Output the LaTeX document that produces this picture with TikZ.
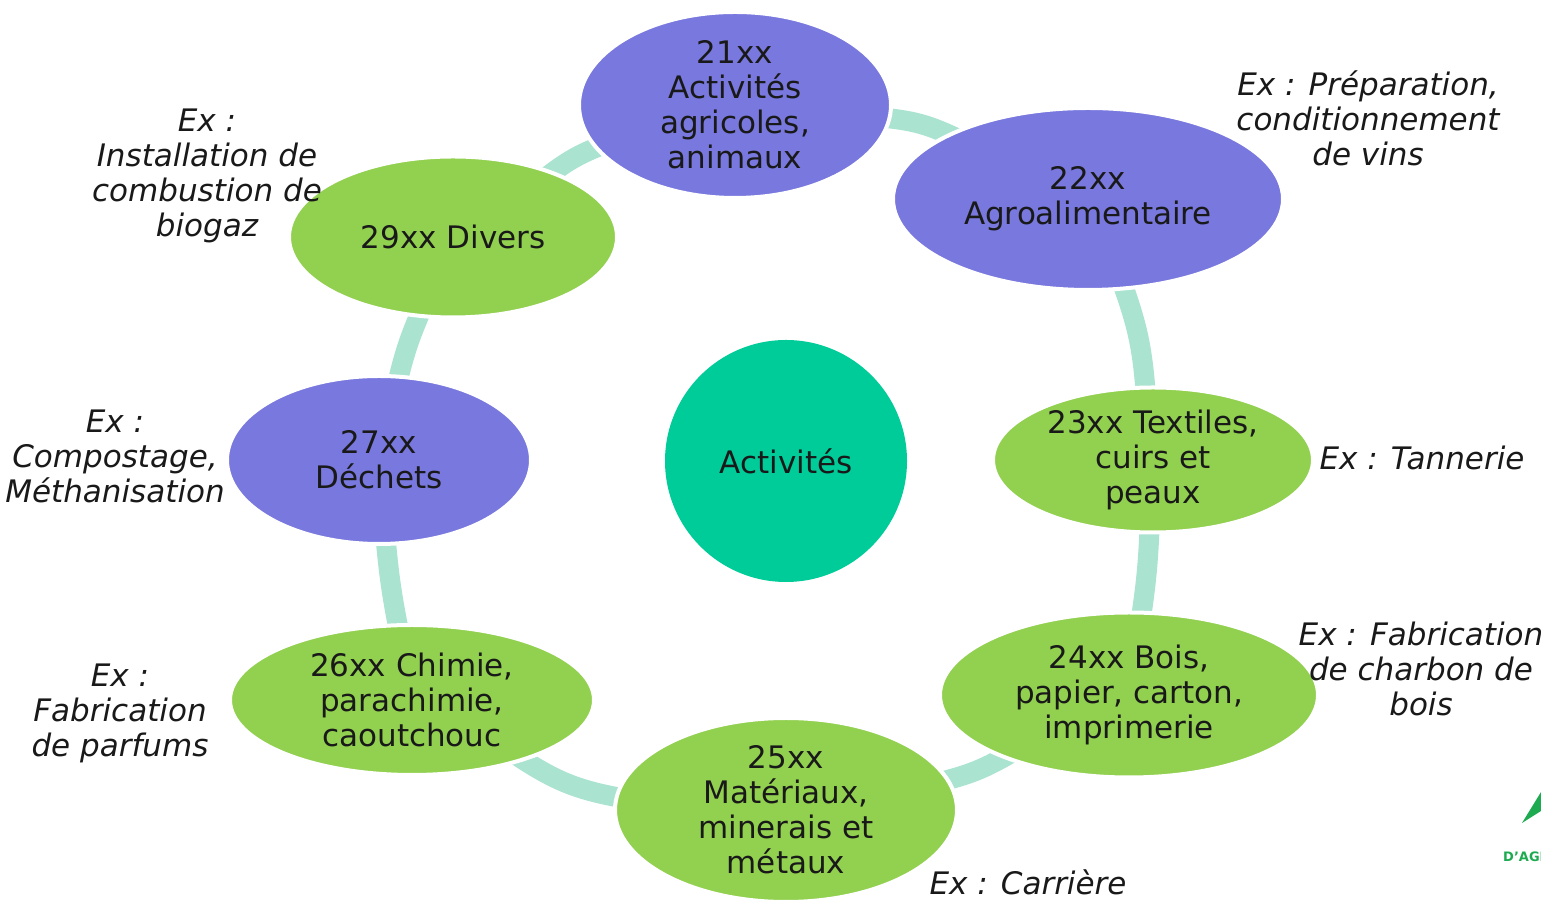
\documentclass[tikz,border=0pt]{standalone}
\usepackage{fontspec}
\setmainfont{DejaVu Sans}
\usetikzlibrary{shapes.geometric,backgrounds}
\definecolor{violetnode}{RGB}{120,120,222}
\definecolor{vertnode}{RGB}{146,208,80}
\definecolor{centrenode}{RGB}{0,204,153}
\definecolor{anneau}{RGB}{170,228,208}
\definecolor{logovert}{RGB}{30,170,80}

\begin{document}
\begin{tikzpicture}[x=1pt,y=1pt,font=\fontsize{31}{35}\selectfont,
  main node/.style={ellipse,draw=white,line width=4pt,inner sep=0pt},
  blue node/.style={main node,fill=violetnode},
  green node/.style={main node,fill=vertnode},
  txt/.style={align=center,text=black!90,inner sep=0pt},
  note/.style={align=center,text=black!90,inner sep=0pt,font=\fontsize{31}{35}\selectfont\itshape},
  ring/.style={draw=anneau,line width=20pt,shorten <=-15pt,shorten >=-15pt}]

  \useasboundingbox (0,0) rectangle (1541,901);

  % the eight groups
  \node[blue node,minimum width=312,minimum height=186] (a21) at (735,796) {};
  \node[blue node,minimum width=390,minimum height=182] (a22) at (1088,702) {};
  \node[green node,minimum width=320,minimum height=145] (a23) at (1153,441) {};
  \node[green node,minimum width=378,minimum height=165] (a24) at (1129,206) {};
  \node[green node,minimum width=342,minimum height=184] (a25) at (786,91) {};
  \node[green node,minimum width=364,minimum height=150] (a26) at (412,201) {};
  \node[blue node,minimum width=304,minimum height=168] (a27) at (379,441) {};
  \node[green node,minimum width=328,minimum height=161] (a29) at (453,664) {};
  \node[circle,fill=centrenode,minimum size=242,inner sep=0pt] (act) at (786,440) {};

  \node[txt] (t21) at (a21) {21xx\\Activités\\agricoles,\\animaux};
  \node[txt] (t22) at (a22) {22xx\\Agroalimentaire};
  \node[txt] (t23) at (a23) {23xx Textiles,\\cuirs et\\peaux};
  \node[txt] (t24) at (a24) {24xx Bois,\\papier, carton,\\imprimerie};
  \node[txt] (t25) at (a25) {25xx\\Matériaux,\\minerais et\\métaux};
  \node[txt] (t26) at (a26) {26xx Chimie,\\parachimie,\\caoutchouc};
  \node[txt] (t27) at (a27) {27xx\\Déchets};
  \node[txt] (t29) at (a29) {29xx Divers};
  \node[txt] (tact) at (act) {Activités};

  % ring
  \begin{scope}[on background layer]
    \fill[white] (0,0) rectangle (1541,901);
    \draw[ring] (a21) to[bend left=10] (a22);
    \draw[ring] (a22) to[bend left=8] (a23);
    \draw[ring] (a23) to[bend left=3] (a24);
    \draw[ring] (a24) to[bend left=8] (a25);
    \draw[ring] (a25) to[bend left=12] (a26);
    \draw[ring] (a26) to[bend left=3] (a27);
    \draw[ring] (a27) to[bend left=5] (a29);
    \draw[ring] (a29) to[bend left=8] (a21);
  \end{scope}

  % examples
  \node[note] (n22) at (1368,783) {Ex : Préparation,\\conditionnement\\de vins};
  \node[note] (n23) at (1422,443) {Ex : Tannerie};
  \node[note] (n24) at (1421,232) {Ex : Fabrication\\de charbon de\\bois};
  \node[note] (n25) at (1028,19) {Ex : Carrière};
  \node[note] (n26) at (120,188) {Ex :\\Fabrication\\de parfums};
  \node[note] (n27) at (115,445) {Ex :\\Compostage,\\Méthanisation};
  \node[note] (n29) at (207,725) {Ex :\\Installation de\\combustion de\\biogaz};

  % logo corner
  \fill[logovert] (1522,78) -- (1541,109) -- (1541,90) -- cycle;
  \node[anchor=base west,inner sep=0pt,text=logovert,font=\fontsize{13}{15}\selectfont\bfseries] (logo) at (1503,39) {D'AGRI};
\end{tikzpicture}
\end{document}
